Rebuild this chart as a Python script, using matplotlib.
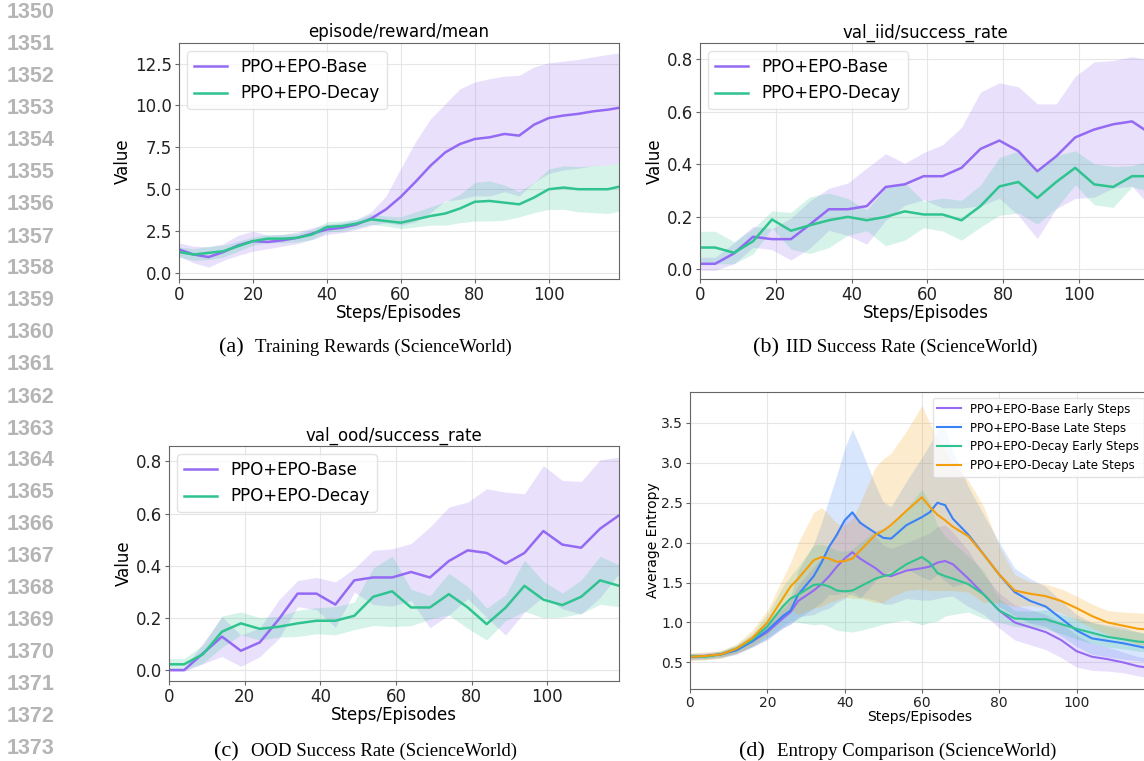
import numpy as np
import matplotlib
matplotlib.use("Agg")
import matplotlib.pyplot as plt

# ---- data ----
steps_a = [0, 4, 8, 12, 16, 20, 24, 28, 32, 36, 40, 44, 48, 52, 56, 60, 64, 68, 72, 76,
           80, 84, 88, 92, 96, 100, 104, 108, 112, 116, 119]
reward_base = [1.4, 1.1, 0.95, 1.25, 1.65, 1.9, 1.85, 1.95, 2.1, 2.35, 2.6, 2.7, 2.9, 3.25, 3.8,
               4.55, 5.45, 6.4, 7.2, 7.7, 8.0, 8.1, 8.3, 8.2, 8.85, 9.25, 9.4, 9.5, 9.65, 9.75, 9.86]
reward_base_std = [0.4, 0.5, 0.6, 0.5, 0.6, 0.6, 0.4, 0.35, 0.35, 0.35, 0.3, 0.3, 0.3, 0.4, 0.8,
                   1.7, 2.4, 2.8, 2.9, 3.3, 3.4, 3.5, 3.45, 3.6, 3.45, 3.3, 3.25, 3.25, 3.25, 3.3, 3.27]
reward_decay = [1.25, 1.1, 1.2, 1.3, 1.6, 1.9, 2.05, 2.05, 2.1, 2.3, 2.75, 2.8, 2.95, 3.2, 3.1,
                3.0, 3.2, 3.4, 3.55, 3.85, 4.25, 4.3, 4.2, 4.1, 4.5, 5.0, 5.1, 5.0, 5.0, 5.0, 5.15]
reward_decay_std = [0.3, 0.35, 0.4, 0.35, 0.3, 0.25, 0.25, 0.25, 0.25, 0.3, 0.3, 0.3, 0.25, 0.3, 0.3,
                    0.35, 0.45, 0.55, 0.7, 0.85, 1.15, 1.2, 1.05, 0.75, 0.9, 1.2, 1.3, 1.35, 1.4, 1.45, 1.45]

steps_val = [0, 4, 9, 14, 19, 24, 29, 34, 39, 44, 49, 54, 59, 64, 69, 74, 79, 84, 89, 94,
             99, 104, 109, 114, 119]
iid_base = [0.02, 0.02, 0.06, 0.123, 0.114, 0.114, 0.17, 0.228, 0.228, 0.24, 0.313, 0.323, 0.354,
            0.354, 0.386, 0.458, 0.49, 0.45, 0.373, 0.43, 0.502, 0.532, 0.552, 0.563, 0.515]
iid_base_std = [0.025, 0.025, 0.04, 0.04, 0.04, 0.08, 0.09, 0.08, 0.10, 0.145, 0.127, 0.08, 0.09,
                0.12, 0.154, 0.217, 0.22, 0.245, 0.257, 0.2, 0.233, 0.258, 0.243, 0.247, 0.28]
iid_decay = [0.082, 0.082, 0.062, 0.106, 0.189, 0.146, 0.167, 0.186, 0.199, 0.186, 0.199, 0.22, 0.208,
             0.208, 0.186, 0.24, 0.315, 0.332, 0.271, 0.332, 0.386, 0.323, 0.313, 0.354, 0.354]
iid_decay_std = [0.062, 0.062, 0.042, 0.048, 0.033, 0.07, 0.108, 0.104, 0.07, 0.04, 0.11, 0.11, 0.05,
                 0.063, 0.076, 0.08, 0.11, 0.118, 0.1, 0.1, 0.065, 0.078, 0.078, 0.04, 0.06]

ood_base = [0.0, 0.0, 0.064, 0.128, 0.074, 0.106, 0.194, 0.293, 0.293, 0.251, 0.344, 0.355, 0.355,
            0.376, 0.355, 0.418, 0.459, 0.449, 0.408, 0.449, 0.533, 0.481, 0.469, 0.542, 0.593]
ood_base_std = [0.005, 0.005, 0.04, 0.076, 0.06, 0.055, 0.074, 0.05, 0.062, 0.087, 0.045, 0.104, 0.11,
                0.109, 0.193, 0.207, 0.185, 0.246, 0.274, 0.227, 0.251, 0.246, 0.254, 0.264, 0.223]
ood_decay = [0.022, 0.022, 0.061, 0.147, 0.179, 0.158, 0.166, 0.179, 0.189, 0.189, 0.208, 0.281, 0.302,
             0.24, 0.24, 0.291, 0.24, 0.176, 0.239, 0.323, 0.27, 0.249, 0.281, 0.344, 0.323]
ood_decay_std = [0.022, 0.022, 0.035, 0.06, 0.044, 0.043, 0.04, 0.05, 0.05, 0.054, 0.053, 0.11, 0.135,
                 0.07, 0.045, 0.08, 0.08, 0.061, 0.05, 0.098, 0.07, 0.046, 0.064, 0.092, 0.08]

steps_ent = [0, 4, 8, 12, 16, 20, 24, 26, 28, 32, 34, 36, 38, 40, 42, 44, 48, 50, 52, 56, 60, 62,
             64, 66, 68, 72, 76, 80, 84, 88, 92, 96, 100, 104, 108, 112, 116, 119]
ent_base_early = [0.57, 0.58, 0.6, 0.66, 0.76, 0.88, 1.05, 1.13, 1.27, 1.4, 1.48, 1.58, 1.7, 1.8,
                  1.88, 1.8, 1.68, 1.6, 1.58, 1.65, 1.68, 1.7, 1.75, 1.77, 1.73, 1.55, 1.35, 1.15,
                  1.0, 0.94, 0.88, 0.78, 0.64, 0.57, 0.54, 0.5, 0.45, 0.43]
ent_base_early_std = [0.03, 0.03, 0.03, 0.05, 0.07, 0.1, 0.12, 0.15, 0.2, 0.3, 0.33, 0.4, 0.45, 0.5,
                      0.5, 0.48, 0.4, 0.37, 0.35, 0.35, 0.4, 0.42, 0.45, 0.45, 0.4, 0.35, 0.25, 0.22,
                      0.22, 0.22, 0.22, 0.22, 0.2, 0.17, 0.15, 0.13, 0.12, 0.12]
ent_base_late = [0.57, 0.58, 0.6, 0.65, 0.76, 0.9, 1.08, 1.15, 1.35, 1.58, 1.75, 1.95, 2.1, 2.28,
                 2.38, 2.25, 2.12, 2.06, 2.05, 2.22, 2.32, 2.38, 2.5, 2.47, 2.3, 2.1, 1.85, 1.6,
                 1.38, 1.27, 1.2, 1.05, 0.9, 0.8, 0.77, 0.74, 0.7, 0.67]
ent_base_late_std = [0.04, 0.04, 0.04, 0.05, 0.07, 0.1, 0.15, 0.17, 0.3, 0.4, 0.5, 0.6, 0.75, 0.9,
                     1.04, 0.95, 0.6, 0.45, 0.4, 0.55, 0.75, 0.85, 0.9, 0.95, 0.85, 0.6, 0.5, 0.4,
                     0.3, 0.28, 0.25, 0.22, 0.2, 0.2, 0.2, 0.2, 0.18, 0.17]
ent_decay_early = [0.58, 0.57, 0.6, 0.67, 0.78, 0.95, 1.2, 1.3, 1.35, 1.47, 1.48, 1.45, 1.4, 1.39,
                   1.4, 1.45, 1.55, 1.58, 1.6, 1.73, 1.82, 1.75, 1.62, 1.58, 1.55, 1.48, 1.35, 1.15,
                   1.05, 1.04, 1.04, 0.98, 0.92, 0.87, 0.82, 0.79, 0.76, 0.75]
ent_decay_early_std = [0.03, 0.03, 0.04, 0.05, 0.08, 0.15, 0.25, 0.28, 0.35, 0.5, 0.5, 0.5, 0.5, 0.5,
                       0.52, 0.55, 0.6, 0.6, 0.6, 0.7, 0.85, 0.75, 0.6, 0.5, 0.45, 0.35, 0.3, 0.15,
                       0.1, 0.1, 0.12, 0.12, 0.13, 0.13, 0.13, 0.12, 0.12, 0.12]
ent_decay_late = [0.57, 0.58, 0.6, 0.67, 0.8, 1.0, 1.3, 1.45, 1.55, 1.78, 1.82, 1.8, 1.76, 1.77,
                  1.8, 1.9, 2.1, 2.15, 2.22, 2.4, 2.57, 2.45, 2.35, 2.28, 2.2, 2.08, 1.85, 1.6,
                  1.4, 1.36, 1.33, 1.27, 1.18, 1.08, 1.0, 0.96, 0.92, 0.91]
ent_decay_late_std = [0.05, 0.05, 0.05, 0.06, 0.1, 0.15, 0.25, 0.3, 0.45, 0.6, 0.62, 0.55, 0.48, 0.45,
                      0.5, 0.6, 0.85, 0.9, 0.9, 1.0, 1.15, 1.05, 0.95, 0.88, 0.8, 0.7, 0.6, 0.35,
                      0.2, 0.15, 0.15, 0.15, 0.15, 0.15, 0.15, 0.17, 0.2, 0.2]

PURPLE = '#9469f3'
GREEN = '#2fc390'
BLUE = '#3b82f6'
ORANGE = '#f59e0b'

W, H = 1144, 761
fig = plt.figure(figsize=(W / 100, H / 100), dpi=100)


def px_axes(left, top, right, bottom):
    # pixel box -> figure fraction
    return fig.add_axes([left / W, 1 - bottom / H, (right - left) / W, (bottom - top) / H])


def style_axes(ax, fs):
    ax.grid(True, color='#e6e6e6', linewidth=0.8)
    ax.set_axisbelow(True)
    for s in ax.spines.values():
        s.set_color('#666666')
    ax.tick_params(labelsize=fs, colors='#222222', length=3, pad=2)
    ax.tick_params(color='#666666')


def band(ax, x, m, sd, color, label, lw=1.8, alpha=0.2):
    x = np.array(x)
    m = np.array(m)
    sd = np.array(sd)
    ax.fill_between(x, m - sd, m + sd, color=color, alpha=alpha, linewidth=0)
    ax.plot(x, m, color=color, lw=lw, label=label)


def two_series_panel(ax, x, b, bs, d, ds, title, ylim, yticks):
    band(ax, x, b, bs, PURPLE, 'PPO+EPO-Base')
    band(ax, x, d, ds, GREEN, 'PPO+EPO-Decay')
    ax.set_xlim(0, 119)
    ax.set_ylim(*ylim)
    ax.set_xticks([0, 20, 40, 60, 80, 100])
    ax.set_yticks(yticks)
    ax.set_title(title, fontsize=12, pad=4)
    ax.set_xlabel('Steps/Episodes', fontsize=12, labelpad=0)
    ax.set_ylabel('Value', fontsize=12, labelpad=2)
    style_axes(ax, 12)
    ax.legend(loc='upper left', fontsize=12, framealpha=0.8, edgecolor='#dddddd')


ax_a = px_axes(179, 43, 619, 279)
two_series_panel(ax_a, steps_a, reward_base, reward_base_std, reward_decay, reward_decay_std,
                 'episode/reward/mean', (-0.36, 13.73), [0, 2.5, 5, 7.5, 10, 12.5])
ax_a.set_yticklabels(['0.0', '2.5', '5.0', '7.5', '10.0', '12.5'])

ax_b = px_axes(700, 43, 1151, 279)
two_series_panel(ax_b, steps_val, iid_base, iid_base_std, iid_decay, iid_decay_std,
                 'val_iid/success_rate', (-0.038, 0.862), [0, 0.2, 0.4, 0.6, 0.8])

ax_c = px_axes(169, 446, 619, 681)
two_series_panel(ax_c, steps_val, ood_base, ood_base_std, ood_decay, ood_decay_std,
                 'val_ood/success_rate', (-0.042, 0.859), [0, 0.2, 0.4, 0.6, 0.8])

ax_d = px_axes(690, 392, 1150, 689)
band(ax_d, steps_ent, ent_base_early, ent_base_early_std, PURPLE, 'PPO+EPO-Base Early Steps', lw=1.5)
band(ax_d, steps_ent, ent_base_late, ent_base_late_std, BLUE, 'PPO+EPO-Base Late Steps', lw=1.5)
band(ax_d, steps_ent, ent_decay_early, ent_decay_early_std, GREEN, 'PPO+EPO-Decay Early Steps', lw=1.5)
band(ax_d, steps_ent, ent_decay_late, ent_decay_late_std, ORANGE, 'PPO+EPO-Decay Late Steps', lw=1.5)
ax_d.set_xlim(0, 119)
ax_d.set_ylim(0.166, 3.888)
ax_d.set_xticks([0, 20, 40, 60, 80, 100])
ax_d.set_yticks([0.5, 1.0, 1.5, 2.0, 2.5, 3.0, 3.5])
ax_d.set_xlabel('Steps/Episodes', fontsize=10, labelpad=0)
ax_d.set_ylabel('Average Entropy', fontsize=10, labelpad=1)
style_axes(ax_d, 10)
ax_d.legend(loc='upper right', fontsize=8.5, framealpha=0.8, edgecolor='#dddddd')

# captions
captions = [
    (219, 255, 352, '(a)', 'Training Rewards (ScienceWorld)'),
    (753, 786, 352, '(b)', 'IID Success Rate (ScienceWorld)'),
    (214, 251, 756, '(c)', 'OOD Success Rate (ScienceWorld)'),
    (739, 777, 756, '(d)', 'Entropy Comparison (ScienceWorld)'),
]
for xl, xt, yb, tag, text in captions:
    fig.text(xl / W, 1 - yb / H, tag, fontsize=16, family='Liberation Serif', va='baseline')
    fig.text(xt / W, 1 - yb / H, text, fontsize=13.5, family='Liberation Serif', va='baseline')

# line numbers in the margin
for i in range(24):
    fig.text(7 / W, 1 - (13 + 32 * i) / H, str(1350 + i), fontsize=15.5, family='Liberation Sans',
             weight='bold', color='#b5b5b5', va='center', ha='left')

fig.savefig('out.png', dpi=100)
